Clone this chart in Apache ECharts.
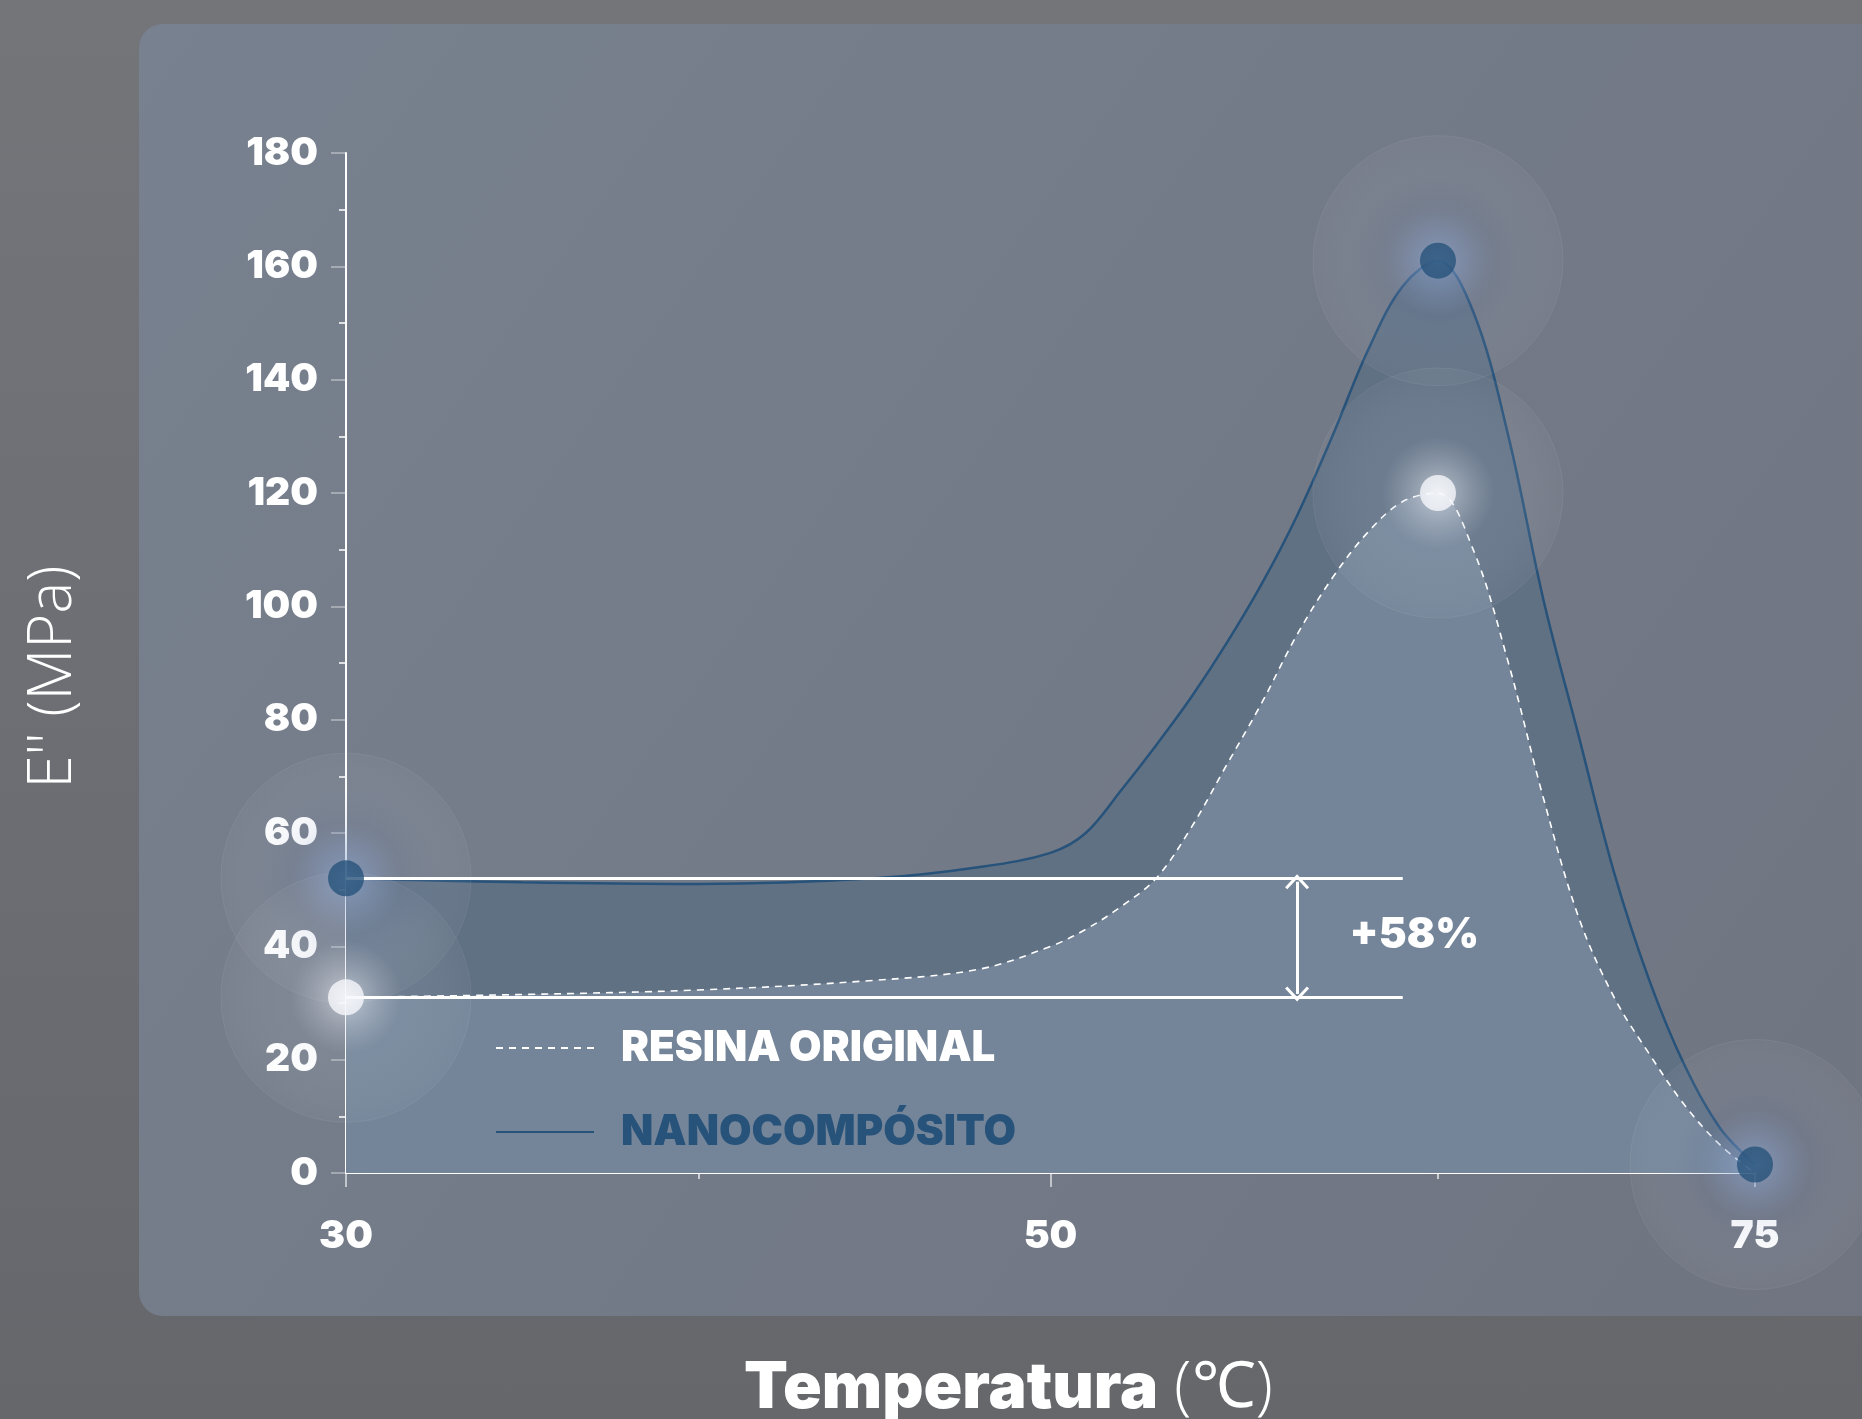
<!DOCTYPE html>
<html>
<head>
<meta charset="utf-8">
<script src="https://cdn.jsdelivr.net/npm/echarts@6/dist/echarts.min.js"></script>
<style>
html,body{margin:0;padding:0;width:1862px;height:1419px;overflow:hidden;
background:linear-gradient(180deg,#737579 0%,#6b6d72 60%,#65676b 100%);}
#c{width:1862px;height:1419px;}
</style>
</head>
<body>
<div id="c"></div>
<script>
// x categories (°C) — axis spacing as drawn: 30-40-50-60-75 evenly spaced
const temps = ['30','31','32','33','34','35','36','37','38','39','40','41','42','43','44','45','46','47','48','49','50',
  '51','52','53','54','55','56','57','58','59','60',
  '61.5','63','64.5','66','67.5','69','70.5','72','73.5','75'];
const labelTemps = ['30','50','75'];
const minorTickTemps = ['40','61.5'];

// E'' (MPa) curves
const curveTemps = ['30','35','40','45','48','50','51','52','53','54','55','56','57','58','59','60','61.5','63','64.5','66','67.5','69','70.5','72','73.5','75'];
const resinaE = [31,31.5,32.3,34,36,40,43,47,52,61,72,83,95,105,113,118.5,120,110,90,66,45,31,21,12,5,0];
const nanoE   = [52,51.3,51,52,54,56.5,60,67.5,75.5,84,93.5,104,116,130,145,156.5,161,152,130,101,77,53,34,19,8,1.5];

// highlighted points
const nanoDotT = ['30','61.5','75'];
const nanoDotE = [52,161,1.5];
const resinaDotT = ['30','61.5'];
const resinaDotE = [31,120];

// comparison annotation
const compareEnd = '60';
const arrowAt = '57';
const gainLabel = '+58%';
const gainLabelY = 42;

const yTicks = {min:0,max:180,interval:20};

const FONT = 'Inter, "Open Sans", sans-serif';
const navy = '#27527a';

const pairs = (t, v) => t.map((x,i)=>[x, v[i]]);

const glowNano = {type:'radial',x:0.5,y:0.5,r:0.5,colorStops:[
  {offset:0,color:'rgba(165,190,235,0.85)'},{offset:0.13,color:'rgba(140,165,210,0.6)'},
  {offset:0.45,color:'rgba(130,150,190,0.16)'},{offset:1,color:'rgba(255,255,255,0.04)'}]};
const glowResina = {type:'radial',x:0.5,y:0.5,r:0.5,colorStops:[
  {offset:0,color:'rgba(255,255,255,0.9)'},{offset:0.13,color:'rgba(235,238,245,0.55)'},
  {offset:0.45,color:'rgba(190,200,215,0.16)'},{offset:1,color:'rgba(255,255,255,0.04)'}]};

const chevron = 'path://M0,13 L11,0 L22,13 L20,15 L11,4.5 L2,15 Z';

const chart = echarts.init(document.getElementById('c'), null, {renderer:'canvas'});
chart.setOption({
  backgroundColor:'transparent',
  animation:false,
  graphic:[{
    type:'rect', z:-10, silent:true,
    shape:{x:139,y:24,width:1800,height:1292,r:24},
    style:{fill:{type:'linear',x:0,y:0,x2:1,y2:1,colorStops:[
      {offset:0,color:'#78818f'},{offset:1,color:'#6f7480'}]}}
  }],
  grid:{left:346,right:107,top:153,bottom:246,containLabel:false,outerBoundsMode:'none'},
  legend:{
    orient:'vertical', left:490, top:1022,
    itemWidth:98, itemHeight:20, itemGap:42,
    itemStyle:{opacity:0},
    data:[
      {name:'RESINA ORIGINAL', textStyle:{color:'#ffffff'}},
      {name:'NANOCOMPÓSITO', textStyle:{color:navy}}
    ],
    textStyle:{fontSize:42,fontWeight:900,fontFamily:FONT,padding:[0,0,0,22]}
  },
  xAxis:[{
    type:'category', data:temps, boundaryGap:false,
    name:'{b|Temperatura}{l|(℃)}',
    nameLocation:'middle', nameGap:184,
    nameTextStyle:{padding:[0,84,0,0],rich:{
      b:{fontSize:64,fontWeight:900,fontFamily:FONT,color:'#ffffff'},
      l:{fontSize:64,fontWeight:300,fontFamily:'"Open Sans", sans-serif',color:'#ffffff',padding:[0,0,0,16]}}},
    axisLine:{lineStyle:{color:'#ffffff',width:2}},
    axisTick:{show:true,length:14,inside:false,lineStyle:{color:'rgba(255,255,255,0.75)',width:1.5},
      interval:(i,v)=>labelTemps.includes(v)},
    axisLabel:{interval:(i,v)=>labelTemps.includes(v),color:'#ffffff',fontSize:39,fontWeight:900,
      fontFamily:FONT,margin:44},
    splitLine:{show:false}
  },{
    type:'category', data:temps, boundaryGap:false, position:'bottom',
    axisLine:{show:false},
    axisTick:{show:true,length:6,lineStyle:{color:'rgba(255,255,255,0.85)',width:1.5},
      interval:(i,v)=>minorTickTemps.includes(v)},
    axisLabel:{show:false}, splitLine:{show:false}
  }],
  yAxis:{
    type:'value', min:yTicks.min, max:yTicks.max, interval:yTicks.interval,
    name:"E'' (MPa)", nameLocation:'middle', nameGap:262, nameRotate:90,
    nameTextStyle:{fontSize:60,fontWeight:300,fontFamily:'"Open Sans", sans-serif',color:'#ffffff',padding:[0,28,0,0]},
    axisLine:{show:true,lineStyle:{color:'#ffffff',width:2}},
    axisTick:{show:true,length:15,lineStyle:{color:'rgba(255,255,255,0.45)',width:1.5}},
    minorTick:{show:true,splitNumber:2,length:7,lineStyle:{color:'#ffffff',width:1.5}},
    axisLabel:{color:'#ffffff',fontSize:39,fontWeight:900,fontFamily:FONT,margin:28},
    splitLine:{show:false}
  },
  series:[
    {
      name:'NANOCOMPÓSITO', type:'line', z:2,
      data:pairs(curveTemps,nanoE), smooth:0.35, symbol:'none',
      lineStyle:{color:navy,width:2.5},
      itemStyle:{color:navy},
      areaStyle:{color:'#617184',opacity:1}
    },
    {
      name:'RESINA ORIGINAL', type:'line', z:3,
      data:pairs(curveTemps,resinaE), smooth:0.35, symbol:'none',
      lineStyle:{color:'#ffffff',width:1.6,type:[7,6]},
      itemStyle:{color:'#ffffff'},
      areaStyle:{color:'#748599',opacity:1}
    },
    {
      name:'glowNano', type:'scatter', z:4, silent:true,
      data:pairs(nanoDotT,nanoDotE), symbolSize:250,
      itemStyle:{color:glowNano,borderColor:'rgba(255,255,255,0.08)',borderWidth:1}
    },
    {
      name:'glowResina', type:'scatter', z:4, silent:true,
      data:pairs(resinaDotT,resinaDotE), symbolSize:250,
      itemStyle:{color:glowResina,borderColor:'rgba(255,255,255,0.08)',borderWidth:1}
    },
    {
      name:'annot', type:'scatter', z:5, data:[], silent:true,
      markLine:{
        silent:true, symbol:['none','none'],
        lineStyle:{color:'#ffffff',width:3,type:'solid'},
        label:{show:false},
        data:[
          [{coord:[nanoDotT[0],nanoDotE[0]]},{coord:[compareEnd,nanoDotE[0]]}],
          [{coord:[resinaDotT[0],resinaDotE[0]]},{coord:[compareEnd,resinaDotE[0]]}],
          [{coord:[arrowAt,nanoDotE[0]-0.6],symbol:chevron,symbolSize:[24,15]},
           {coord:[arrowAt,resinaDotE[0]+0.6],symbol:chevron,symbolSize:[24,15]}]
        ]
      },
      markPoint:{
        silent:true, symbol:'circle', symbolSize:1,
        itemStyle:{color:'rgba(0,0,0,0)'},
        data:[{coord:[arrowAt,gainLabelY],value:gainLabel,
          label:{show:true,position:'right',distance:52,formatter:gainLabel,
            color:'#ffffff',fontSize:42,fontWeight:900,fontFamily:FONT}}]
      }
    },
    {
      name:'dotNano', type:'scatter', z:6, silent:true,
      data:pairs(nanoDotT,nanoDotE), symbolSize:36,
      itemStyle:{color:navy}
    },
    {
      name:'dotResina', type:'scatter', z:6, silent:true,
      data:pairs(resinaDotT,resinaDotE), symbolSize:36,
      itemStyle:{color:'#f6f8fb'}
    }
  ]
});
</script>
</body>
</html>
